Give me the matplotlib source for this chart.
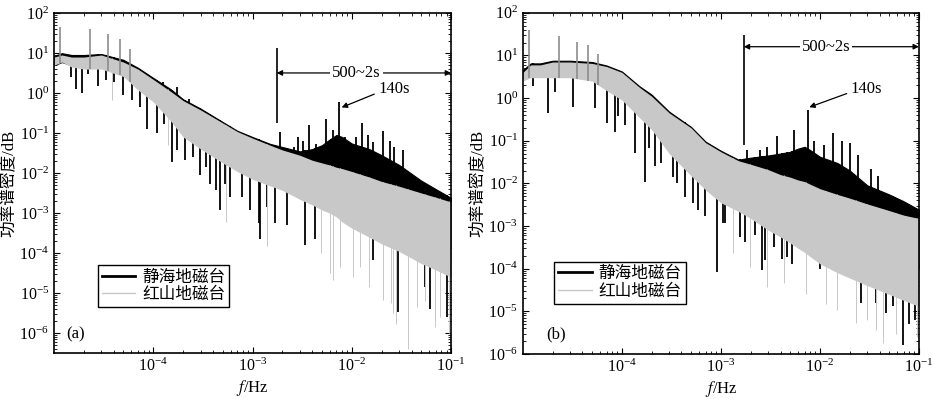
import numpy as np
import matplotlib.pyplot as plt
from matplotlib.lines import Line2D
from matplotlib.ticker import LogLocator, NullFormatter

plt.rcParams['font.family'] = ['Liberation Serif', 'Noto Sans CJK SC']
plt.rcParams['mathtext.fontset'] = 'stix'

# envelope nodes (Hz)
freq = [1.0e-5, 1.2e-5, 1.5e-5, 2e-5, 3e-5, 5e-5, 7e-5, 1e-4, 1.5e-4, 2e-4,
        3e-4, 5e-4, 7e-4, 1e-3, 1.5e-3, 2e-3, 3e-3, 4e-3, 5e-3, 6e-3,
        7e-3, 8e-3, 1e-2, 1.5e-2, 2e-2, 3e-2, 5e-2, 7e-2, 1e-1]

# ---- (a) 静海 (black) ----
jh_hi_a = [8.5, 10, 9, 9, 9.5, 6.8, 4.3, 2.4, 1.25, 0.7,
           0.41, 0.19, 0.115, 0.08, 0.054, 0.045, 0.035, 0.04, 0.05, 0.07,
           0.09, 0.08, 0.055, 0.04, 0.028, 0.016, 0.0065, 0.004, 0.0024]
jh_lo_a = [5, 6, 5, 4.5, 4.5, 3, 1.5, 0.8, 0.3, 0.12,
           0.06, 0.03, 0.02, 0.012, 0.008, 0.006, 0.004, 0.003, 0.0025, 0.002,
           0.0018, 0.0015, 0.0012, 8e-4, 6e-4, 4e-4, 2.5e-4, 1.8e-4, 1.3e-4]
# ---- (a) 红山 (grey) ----
hs_hi_a = [8, 9, 8, 8, 9, 6, 4, 2.2, 1.1, 0.65,
           0.38, 0.18, 0.11, 0.075, 0.05, 0.038, 0.028, 0.021, 0.018, 0.016,
           0.014, 0.013, 0.011, 0.008, 0.0062, 0.0047, 0.0032, 0.0025, 0.0019]
hs_lo_a = [5, 6, 4.5, 4, 4, 2.6, 1.2, 0.6, 0.2, 0.08,
           0.04, 0.018, 0.011, 0.007, 0.0048, 0.0037, 0.0022, 0.0016, 0.0012, 0.001,
           8e-4, 6e-4, 4.2e-4, 2.5e-4, 1.7e-4, 1.1e-4, 5.5e-5, 3.8e-5, 2.5e-5]

jh_up_f_a = [1.26e-4, 1.74e-4, 2.3e-4, 1.89e-3, 2.6e-3, 2.9e-3, 3.2e-3, 3.7e-3, 4.4e-3,
             5.5e-3, 6.5e-3, 7.4e-3, 8.5e-3, 1.1e-2, 1.28e-2, 1.45e-2, 1.65e-2,
             2.05e-2, 2.4e-2, 2.65e-2, 3.3e-2]
jh_up_v_a = [1.9, 1.45, 0.7, 0.108, 0.046, 0.081, 0.062, 0.16, 0.054,
             0.23, 0.12, 0.6, 0.081, 0.081, 0.175, 0.089, 0.06,
             0.114, 0.062, 0.046, 0.037]
jh_dn_f_a = [1.47e-5, 1.66e-5, 1.93e-5, 2.2e-5, 2.8e-5, 3.3e-5, 4e-5, 4.9e-5, 6.1e-5,
             7.3e-5, 8.6e-5, 1.09e-4, 1.27e-4, 1.53e-4, 1.72e-4, 2.08e-4, 2.54e-4,
             2.97e-4, 3.4e-4, 3.7e-4, 4.3e-4, 4.7e-4, 5.3e-4, 5.9e-4, 7.8e-4,
             9.4e-4, 1.15e-3, 1.18e-3, 1.4e-3, 1.7e-3, 2.2e-3, 3.4e-3, 4.3e-3,
             1.65e-2, 2.95e-2, 5.5e-2, 6.2e-2, 9e-2]
jh_dn_v_a = [2.6, 1.3, 1.0, 3.1, 1.5, 2.1, 1.9, 0.89, 0.67,
             0.46, 0.13, 0.1, 0.17, 0.019, 0.037, 0.021, 0.026,
             0.0089, 0.014, 0.0055, 0.0037, 0.0012, 0.0055, 0.0026, 0.0026,
             0.0012, 5.6e-4, 2.3e-4, 1.4e-3, 5.6e-4, 5e-4, 1.6e-4, 2.3e-4,
             6.6e-5, 3.4e-6, 1.4e-5, 4e-6, 2.5e-6]
hs_up_f_a = [1.16e-5, 2.3e-5, 3.5e-5, 4.6e-5, 5.8e-5]
hs_up_v_a = [45, 40, 31, 22, 13]
hs_dn_f_a = [3.8e-5, 1.4e-4, 5.4e-4, 1.4e-3, 4.9e-3, 6e-3, 6.5e-3, 7.6e-3, 1.03e-2,
             1.2e-2, 1.5e-2, 2.05e-2, 2.5e-2, 2.6e-2, 2.8e-2, 3.7e-2, 4.5e-2,
             5.5e-2, 6.9e-2, 7.7e-2, 9.6e-2]
hs_dn_v_a = [0.67, 0.05, 6e-4, 1.5e-4, 1e-4, 3.1e-5, 2.1e-5, 4.6e-5, 2.6e-5,
             4.6e-5, 1.4e-5, 6.6e-6, 5.6e-6, 3.1e-6, 1.7e-6, 4e-7, 4.6e-6,
             6.3e-6, 1.4e-6, 2.5e-6, 1e-6]

# ---- (b) 静海 (black) ----
jh_hi_b = [4.5, 6.5, 6.5, 7.5, 7.5, 7, 5.8, 4.2, 1.9, 1.2,
           0.48, 0.21, 0.095, 0.058, 0.036, 0.04, 0.045, 0.05, 0.055, 0.065,
           0.072, 0.06, 0.042, 0.03, 0.02, 0.009, 0.0055, 0.0038, 0.0024]
jh_lo_b = [3, 3.5, 3.5, 3.5, 3.5, 3, 2, 1.3, 0.6, 0.35,
           0.12, 0.04, 0.02, 0.01, 0.006, 0.004, 0.0025, 0.002, 0.0016, 0.0013,
           0.0011, 0.001, 8e-4, 5.5e-4, 4e-4, 2.8e-4, 1.8e-4, 1.3e-4, 1e-4]
# ---- (b) 红山 (grey) ----
hs_hi_b = [4, 6, 6, 7, 7, 6.5, 5.5, 4, 1.8, 1.1,
           0.45, 0.2, 0.09, 0.055, 0.034, 0.028, 0.021, 0.016, 0.014, 0.012,
           0.011, 0.0095, 0.0075, 0.0055, 0.0045, 0.0033, 0.0023, 0.0018, 0.0015]
hs_lo_b = [2.5, 3, 3, 3, 3, 2.5, 1.5, 0.9, 0.35, 0.18,
           0.05, 0.015, 0.007, 0.0035, 0.0022, 0.0015, 8e-4, 5.5e-4, 4e-4, 3e-4,
           2.4e-4, 1.9e-4, 1.3e-4, 8e-5, 6e-5, 4e-5, 2.5e-5, 1.8e-5, 1.3e-5]

jh_up_f_b = [1.25e-4, 1.4e-4, 2.9e-4, 3.7e-4, 1.85e-3, 2.5e-3, 2.9e-3, 3.7e-3, 4.4e-3,
             5.5e-3, 7.5e-3, 8.7e-3, 1.1e-2, 1.36e-2, 1.66e-2, 2.0e-2, 2.4e-2,
             3.3e-2, 3.9e-2]
jh_up_v_b = [2.4, 2.0, 0.31, 0.15, 0.06, 0.06, 0.072, 0.126, 0.05,
             0.18, 0.52, 0.1, 0.08, 0.15, 0.1, 0.09, 0.045,
             0.022, 0.015]
jh_dn_f_b = [1.27e-5, 1.8e-5, 2.1e-5, 3.2e-5, 5.3e-5, 7.1e-5, 8.5e-5, 9.2e-5,
             1.07e-4, 1.37e-4, 1.73e-4, 1.9e-4, 2.15e-4, 2.5e-4, 3.3e-4, 3.6e-4,
             4.3e-4, 5.2e-4, 5.85e-4, 6.9e-4, 9.2e-4, 1.06e-3, 1.09e-3, 1.55e-3,
             1.75e-3, 2.2e-3, 2.6e-3, 2.8e-3, 3.4e-3, 4.1e-3, 4.6e-3, 5.2e-3,
             6.5e-3, 1e-2, 1.36e-2, 1.66e-2, 2.6e-2, 3.7e-2, 4.7e-2, 5.5e-2,
             6.9e-2, 8e-2, 9.1e-2]
jh_dn_v_b = [1.9, 0.45, 1.4, 0.63, 0.58, 0.26, 0.16, 0.37,
             0.23, 0.051, 0.011, 0.066, 0.025, 0.03, 0.014, 0.01,
             0.0049, 0.0034, 2.4e-3, 0.0017, 8.3e-5, 0.0012, 0.0012, 5.6e-4,
             4.3e-4, 6e-4, 9.3e-5, 1.6e-4, 3.2e-4, 1.7e-4, 1.9e-4, 1.3e-4,
             4e-4, 1e-4, 1.3e-4, 9e-5, 1.55e-5, 1.6e-5, 9e-6, 1.3e-5,
             1.6e-6, 5e-6, 6.3e-6]
hs_up_f_b = [1.16e-5, 2.3e-5, 3.5e-5, 4.6e-5, 5.75e-5]
hs_up_v_b = [40, 28, 21, 18, 11]
hs_dn_f_b = [1.33e-3, 1.95e-3, 2.9e-3, 4.3e-3, 7.3e-3, 1.16e-2, 1.5e-2, 2.3e-2,
             3e-2, 3.7e-2, 4.3e-2, 5.9e-2, 9.5e-2]
hs_dn_v_b = [2.3e-4, 1.1e-4, 3.8e-5, 4.5e-5, 2.6e-5, 1.5e-5, 1.1e-5, 5.2e-6,
             6.3e-6, 3.6e-6, 1.8e-6, 3e-6, 2.5e-6]

names = ['静海地磁台', '红山地磁台']
grey = '#c8c8c8'


def loginterp(x, xp, fp):
    return 10 ** np.interp(np.log10(x), np.log10(xp), np.log10(fp))


def draw_panel(ax, jh_hi, jh_lo, hs_hi, hs_lo, jh_up, jh_dn, hs_up, hs_dn):
    ax.fill_between(freq, jh_lo, jh_hi, color='black', lw=0.8, zorder=1)
    ax.vlines(jh_up[0], loginterp(jh_up[0], freq, jh_lo), jh_up[1],
              color='black', lw=1.3, zorder=1)
    ax.vlines(jh_dn[0], jh_dn[1], loginterp(jh_dn[0], freq, jh_hi),
              color='black', lw=1.3, zorder=1)
    ax.fill_between(freq, hs_lo, hs_hi, color=grey, lw=0, zorder=2)
    ax.vlines(hs_up[0], loginterp(hs_up[0], freq, hs_lo), hs_up[1],
              color='#8c8c8c', lw=1.2, zorder=2)
    ax.vlines(hs_dn[0], hs_dn[1], loginterp(hs_dn[0], freq, hs_hi),
              color=grey, lw=0.7, zorder=2)

    ax.set_xscale('log')
    ax.set_yscale('log')
    ax.set_xlim(1e-5, 1e-1)
    ax.set_xticks([1e-4, 1e-3, 1e-2, 1e-1])
    ax.xaxis.set_minor_locator(LogLocator(base=10, subs=np.arange(2, 10), numticks=20))
    ax.xaxis.set_minor_formatter(NullFormatter())
    ax.set_yticks([1e-6, 1e-5, 1e-4, 1e-3, 1e-2, 1e-1, 1e0, 1e1, 1e2])
    ax.yaxis.set_minor_locator(LogLocator(base=10, subs=np.arange(2, 10), numticks=20))
    ax.yaxis.set_minor_formatter(NullFormatter())
    ax.tick_params(which='both', direction='in', top=True, right=True, labelsize=11.5)
    ax.tick_params(which='major', length=4)
    ax.tick_params(which='minor', length=2)
    for sp in ax.spines.values():
        sp.set_linewidth(1.2)
    ax.set_xlabel('$f$/Hz', fontsize=12, labelpad=2)
    ax.set_ylabel('功率谱密度/dB', fontsize=12, labelpad=1)

    handles = [Line2D([], [], color='black', lw=2),
               Line2D([], [], color=grey, lw=1)]
    return handles


fig = plt.figure(figsize=(9.32, 3.99), dpi=100)
ax1 = fig.add_axes([0.058, 0.115, 0.426, 0.852])
ax2 = fig.add_axes([0.561, 0.113, 0.425, 0.855])

h = draw_panel(ax1, jh_hi_a, jh_lo_a, hs_hi_a, hs_lo_a,
               (jh_up_f_a, jh_up_v_a), (jh_dn_f_a, jh_dn_v_a),
               (hs_up_f_a, hs_up_v_a), (hs_dn_f_a, hs_dn_v_a))
ax1.set_ylim(10 ** -6.5, 1e2)
h = draw_panel(ax2, jh_hi_b, jh_lo_b, hs_hi_b, hs_lo_b,
               (jh_up_f_b, jh_up_v_b), (jh_dn_f_b, jh_dn_v_b),
               (hs_up_f_b, hs_up_v_b), (hs_dn_f_b, hs_dn_v_b))
ax2.set_ylim(1e-6, 1e2)

# annotations: band marker, double arrow, 140s peak
marks = [
    (ax1, 1.75e-3, 0.178, 13.3, 3.2, 0.0112, (0.0185, 1.25), (7.9e-3, 0.44), '(a)', (0.03, 0.055), (0.11, 0.135)),
    (ax2, 1.7e-3, 0.079, 30, 16, 0.0115, (0.0205, 1.64), (7.8e-3, 0.61), '(b)', (0.058, 0.056), (0.079, 0.147)),
]
for ax, fx, y0, y1, ya, xt, p140, a140, tag, tagpos, legpos in marks:
    ax.vlines(fx, y0, y1, color='black', lw=1.2, zorder=4)
    ax.annotate('', xy=(1e-1, ya), xytext=(fx, ya),
                arrowprops=dict(arrowstyle='<|-|>', color='black', lw=0.9,
                                mutation_scale=8, shrinkA=0, shrinkB=0), zorder=4)
    ax.text(xt, ya, '500~2s', fontsize=12, ha='center', va='center', zorder=5,
            bbox=dict(facecolor='white', edgecolor='none', pad=1.5))
    ax.annotate('140s', xy=a140, xytext=p140, fontsize=12, ha='left', va='center',
                arrowprops=dict(arrowstyle='-|>', color='black', lw=0.9,
                                mutation_scale=8, shrinkA=1, shrinkB=0,
                                relpos=(0, 0.3)), zorder=5)
    ax.text(tagpos[0], tagpos[1], tag, transform=ax.transAxes, fontsize=12,
            ha='left', va='center')
    leg = ax.legend(h, names, loc='lower left', bbox_to_anchor=legpos,
                    borderaxespad=0, fontsize=12, fancybox=False, framealpha=1,
                    edgecolor='black', handlelength=2.0, handletextpad=0.4,
                    labelspacing=0.1, borderpad=0.25)
    leg.get_frame().set_linewidth(1.0)

fig.savefig('out.png', dpi=100)
